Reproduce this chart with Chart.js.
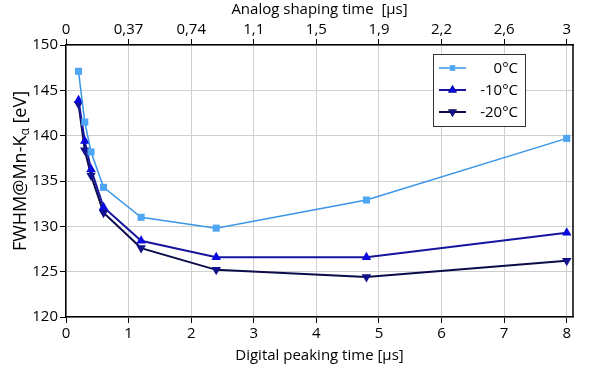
<!DOCTYPE html>
<html>
<head>
<meta charset="utf-8">
<script src="https://cdn.jsdelivr.net/npm/chart.js@4.4.1/dist/chart.umd.min.js"></script>
<style>
  html, body { margin: 0; padding: 0; background: #ffffff; }
  #wrap { width: 600px; height: 368px; position: relative; }
</style>
</head>
<body>
<div id="wrap"><canvas id="c" width="600" height="368"></canvas></div>
<script>
// Digital peaking time [µs]
const peakingTimes = [0.2, 0.3, 0.4, 0.6, 1.2, 2.4, 4.8, 8];
// FWHM @ Mn-Kα [eV]
const fwhm0C   = [147.1, 141.5, 138.2, 134.3, 131.0, 129.8, 132.9, 139.7];
const fwhmM10C = [143.9, 139.4, 136.3, 132.1, 128.4, 126.6, 126.6, 129.3];
const fwhmM20C = [143.5, 138.4, 135.6, 131.5, 127.6, 125.2, 124.4, 126.2];
const seriesLabels = ['0°C', '-10°C', '-20°C'];
// Top axis labels (analog shaping time, µs), one per bottom integer tick
const analogTickLabels = ['0', '0,37', '0,74', '1,1', '1,5', '1,9', '2,2', '2,6', '3'];
const bottomTitle = 'Digital peaking time [µs]';
const topTitle = 'Analog shaping time  [µs]';
const yTitleMain = 'FWHM@Mn-K';
const yTitleSub = 'α';
const yTitleEnd = ' [eV]';

const TICK_FONT = { family: 'Open Sans', size: 15 };
const pts = (xs, ys) => xs.map((x, i) => ({ x: x, y: ys[i] }));

const colors = [
  { line: '#3a95e8', point: '#4fa6f2' },
  { line: '#15159e', point: '#0a0ae0' },
  { line: '#0b0b4a', point: '#12128a' }
];

const datasets = [
  { label: seriesLabels[0], data: pts(peakingTimes, fwhm0C), borderColor: colors[0].line, backgroundColor: colors[0].point,
    pointBackgroundColor: colors[0].point, pointBorderColor: colors[0].point, borderWidth: 1.5, pointStyle: 'rect', pointRadius: 5, pointBorderWidth: 0, pointRotation: 0 },
  { label: seriesLabels[1], data: pts(peakingTimes, fwhmM10C), borderColor: colors[1].line, backgroundColor: colors[1].point,
    pointBackgroundColor: colors[1].point, pointBorderColor: colors[1].point, borderWidth: 2, pointStyle: 'triangle', pointRadius: 5.5, pointBorderWidth: 0, pointRotation: 0 },
  { label: seriesLabels[2], data: pts(peakingTimes, fwhmM20C), borderColor: colors[2].line, backgroundColor: colors[2].point,
    pointBackgroundColor: colors[2].point, pointBorderColor: colors[2].point, borderWidth: 2, pointStyle: 'triangle', pointRadius: 5.5, pointBorderWidth: 0, pointRotation: 180 }
];

const decorPlugin = {
  id: 'decor',
  afterDraw(chart) {
    const ctx = chart.ctx;
    const a = chart.chartArea;
    ctx.save();
    // right frame line
    ctx.strokeStyle = '#000';
    ctx.lineWidth = 1.5;
    ctx.beginPath();
    ctx.moveTo(a.right, a.top);
    ctx.lineTo(a.right, a.bottom);
    ctx.stroke();

    // axis titles
    ctx.fillStyle = '#000';
    ctx.textAlign = 'center';
    ctx.textBaseline = 'middle';
    ctx.font = '15px "Open Sans"';
    const cx = (a.left + a.right) / 2;
    ctx.fillText(topTitle, cx, 10);
    ctx.fillText(bottomTitle, cx, 356);

    // y title with subscript alpha
    ctx.save();
    ctx.translate(26, 171);
    ctx.rotate(-Math.PI / 2);
    ctx.textBaseline = 'alphabetic';
    ctx.textAlign = 'left';
    const mainFont = '18px "Open Sans"';
    const subFont = '12px "Open Sans"';
    ctx.font = mainFont;
    const w1 = ctx.measureText(yTitleMain).width;
    const w3 = ctx.measureText(yTitleEnd).width;
    ctx.font = subFont;
    const w2 = ctx.measureText(yTitleSub).width;
    const total = w1 + w2 + w3;
    let x0 = -total / 2;
    ctx.font = mainFont;
    ctx.fillText(yTitleMain, x0, 0);
    ctx.font = subFont;
    ctx.fillText(yTitleSub, x0 + w1, 3);
    ctx.font = mainFont;
    ctx.fillText(yTitleEnd, x0 + w1 + w2, 0);
    ctx.restore();

    // legend
    const lx = 433.5, ly = 54.5, lw = 92, lh = 72;
    ctx.fillStyle = '#fff';
    ctx.fillRect(lx, ly, lw, lh);
    ctx.strokeStyle = '#333';
    ctx.lineWidth = 1;
    ctx.strokeRect(lx, ly, lw, lh);
    const rows = [68, 90, 112];
    chart.data.datasets.forEach((ds, i) => {
      const y = rows[i];
      ctx.strokeStyle = ds.borderColor;
      ctx.lineWidth = ds.borderWidth;
      ctx.beginPath();
      ctx.moveTo(439, y);
      ctx.lineTo(466, y);
      ctx.stroke();
      Chart.helpers.drawPoint(ctx, {
        pointStyle: ds.pointStyle, rotation: ds.pointRotation, radius: ds.pointStyle === 'rect' ? 4 : 5,
        borderWidth: 0
      }, 452.5, y);
      ctx.fillStyle = ds.pointBackgroundColor;
      ctx.fill();
      ctx.fillStyle = '#000';
      ctx.font = '15px "Open Sans"';
      ctx.textAlign = 'right';
      ctx.textBaseline = 'middle';
      ctx.fillText(ds.label, 518, y + 1);
    });
    ctx.restore();
  }
};

new Chart(document.getElementById('c'), {
  type: 'line',
  data: { datasets: datasets },
  plugins: [decorPlugin],
  options: {
    responsive: false,
    animation: false,
    devicePixelRatio: 1,
    layout: { padding: { left: 0, right: 27, top: 0, bottom: 0 } },
    plugins: { legend: { display: false }, tooltip: { enabled: false } },
    elements: { line: { tension: 0 } },
    scales: {
      x: {
        type: 'linear', position: 'bottom', min: 0, max: 8.1,
        ticks: { stepSize: 1, includeBounds: false, color: '#000', font: TICK_FONT, padding: 2, maxRotation: 0 },
        grid: { color: '#cfcfcf', lineWidth: 1, tickColor: '#000', tickLength: 6 },
        border: { color: '#000', width: 1.5 },
        afterFit(s) { s.height = 51; }
      },
      x2: {
        type: 'linear', position: 'top', min: 0, max: 8.1,
        ticks: { stepSize: 1, includeBounds: false, color: '#000', font: TICK_FONT, padding: 0, maxRotation: 0,
          callback: (v, i) => analogTickLabels[i] },
        grid: { drawOnChartArea: false, tickColor: '#000', tickLength: 6 },
        border: { color: '#000', width: 1.5 },
        afterFit(s) { s.height = 45; }
      },
      y: {
        type: 'linear', position: 'left', min: 120, max: 150,
        ticks: { stepSize: 5, color: '#000', font: TICK_FONT, padding: 2 },
        grid: { color: '#cfcfcf', lineWidth: 1, tickColor: '#000', tickLength: 6 },
        border: { color: '#000', width: 1.5 },
        afterFit(s) { s.width = 66; }
      }
    }
  }
});
</script>
</body>
</html>
